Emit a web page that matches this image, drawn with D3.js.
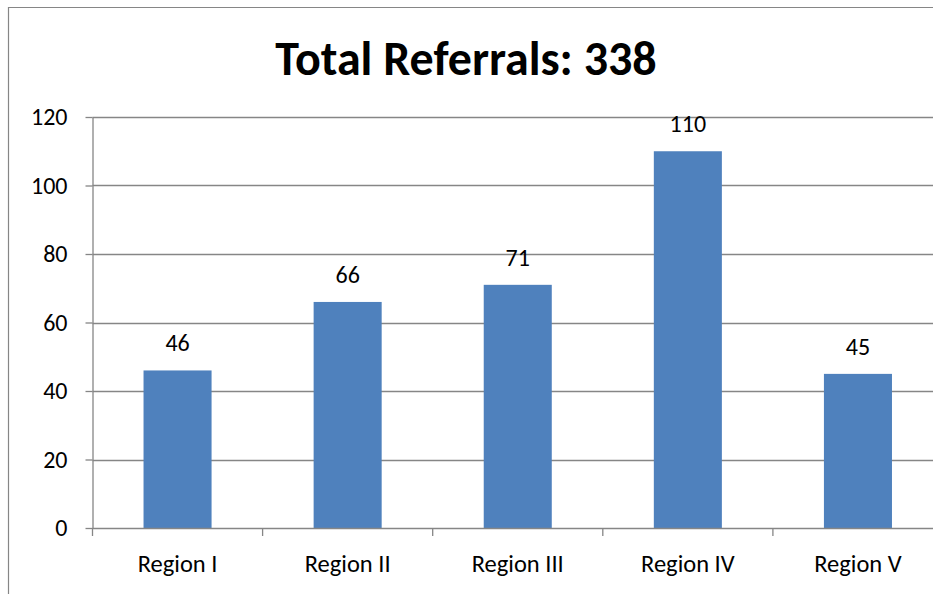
<!DOCTYPE html>
<html>
<head>
<meta charset="utf-8">
<script src="https://cdn.jsdelivr.net/npm/d3@7"></script>
<style>
  body { margin: 0; background: #fff; }
  text { font-family: Carlito, Calibri, Lato, "Open Sans", sans-serif; fill: #000; }
</style>
</head>
<body>
<div id="chart-container"></div>
<script>
// Referrals per region
const regions = ["Region I", "Region II", "Region III", "Region IV", "Region V"];
const referrals = [46, 66, 71, 110, 45];
const yTicks = [0, 20, 40, 60, 80, 100, 120];
const title = "Total Referrals: 338";

const W = 933, H = 594;
const margin = { top: 117, right: -10, bottom: 66, left: 92.5 },
    width = W - margin.left - margin.right,
    height = H - margin.top - margin.bottom;

const root = d3.select("#chart-container").append("svg")
    .attr("width", W)
    .attr("height", H);

// chart frame (only top and left visible)
root.append("path")
    .attr("d", `M8.5,${H} V7.5 H${W}`)
    .attr("fill", "none")
    .attr("stroke", "#868686")
    .attr("stroke-width", 1.2);

root.append("text")
    .attr("x", 466)
    .attr("y", 75)
    .attr("text-anchor", "middle")
    .style("font-size", "48px")
    .style("font-weight", "bold")
    .text(title);

const svg = root.append("g")
    .attr("transform", `translate(${margin.left},${margin.top})`);

// Scales
const x = d3.scaleBand()
    .domain(regions)
    .range([0, width])
    .paddingInner(0.6)
    .paddingOuter(0.3);

const y = d3.scaleLinear()
    .domain([0, 120])
    .range([height, 0]);

// gridlines
svg.append("g")
    .selectAll("line")
    .data(yTicks.filter(d => d > 0))
    .enter().append("line")
    .attr("x1", 0)
    .attr("x2", width)
    .attr("y1", d => Math.round(y(d)) + 0.5)
    .attr("y2", d => Math.round(y(d)) + 0.5)
    .attr("stroke", "#868686")
    .attr("stroke-width", 1.3);

// bars
svg.selectAll(".bar")
    .data(referrals)
    .enter().append("rect")
    .attr("class", "bar")
    .attr("x", (d, i) => x(regions[i]))
    .attr("width", x.bandwidth())
    .attr("y", d => y(d))
    .attr("height", d => height - y(d))
    .attr("fill", "#4F81BD");

// value labels
svg.selectAll(".val")
    .data(referrals)
    .enter().append("text")
    .attr("class", "val")
    .attr("x", (d, i) => x(regions[i]) + x.bandwidth() / 2)
    .attr("y", d => y(d) - 19)
    .attr("text-anchor", "middle")
    .style("font-size", "24px")
    .text(d => d);

// y axis
const yAxis = svg.append("g")
    .call(d3.axisLeft(y).tickValues(yTicks).tickSize(7).tickPadding(18).tickSizeOuter(0));
yAxis.select(".domain").attr("stroke", "#868686").attr("stroke-width", 1.3);
yAxis.selectAll(".tick line").attr("stroke", "#868686").attr("stroke-width", 1.3);
yAxis.selectAll(".tick text")
    .style("font-size", "24px")
    .style("font-family", "Carlito, Calibri, Lato, 'Open Sans', sans-serif")
    .attr("fill", "#000");

// x axis with ticks at category boundaries
const step = x.step();
const bounds = d3.range(regions.length + 1).map(i => i * step);
const xAxis = svg.append("g").attr("transform", `translate(0,${height})`);
xAxis.append("line")
    .attr("x1", 0).attr("x2", width)
    .attr("y1", 0.5).attr("y2", 0.5)
    .attr("stroke", "#868686").attr("stroke-width", 1.3);
xAxis.selectAll(".bt")
    .data(bounds)
    .enter().append("line")
    .attr("class", "bt")
    .attr("x1", d => d).attr("x2", d => d)
    .attr("y1", 0).attr("y2", 8)
    .attr("stroke", "#868686").attr("stroke-width", 1.3);
xAxis.selectAll(".cat")
    .data(regions)
    .enter().append("text")
    .attr("class", "cat")
    .attr("x", d => x(d) + x.bandwidth() / 2)
    .attr("y", 44)
    .attr("text-anchor", "middle")
    .style("font-size", "24.5px")
    .text(d => d);
</script>
</body>
</html>
